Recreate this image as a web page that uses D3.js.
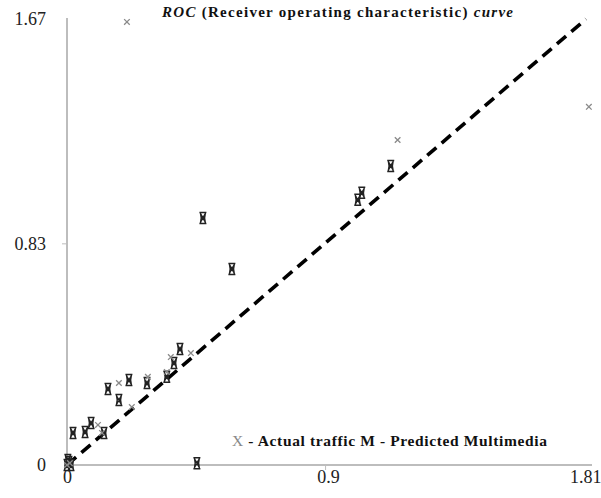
<!DOCTYPE html>
<html>
<head>
<meta charset="utf-8">
<script src="https://cdn.jsdelivr.net/npm/d3@7"></script>
<style>
  body { margin: 0; background: #fff; }
  svg { display: block; }
  text { font-family: "Liberation Serif", "Times New Roman", serif; }
</style>
</head>
<body>
<svg id="chart" width="601" height="498"></svg>
<script>
// ---- data ----
const xTicks = [0, 0.9, 1.81];
const yTicks = [0, 0.83, 1.67];
const xDomain = [0, 1.81];
const yDomain = [0, 1.67];

// Actual traffic (gray "x" markers)
const actualX = [0.209, 1.82, 1.153, 0.181, 0.432, 0.362, 0.348, 0.282, 0.226, 0.108, 0.122, 0.0, 0.01];
const actualY = [1.659, 1.341, 1.217, 0.307, 0.419, 0.404, 0.348, 0.330, 0.217, 0.150, 0.120, 0.0, 0.007];

// Predicted multimedia (dark "M" markers)
const predX = [1.129, 1.028, 1.014, 0.474, 0.575, 0.394, 0.373, 0.348, 0.279, 0.216, 0.143, 0.181, 0.021, 0.063, 0.084, 0.129, 0.453, 0.0, 0.007, 0.014, 0.003];
const predY = [1.120, 1.019, 0.993, 0.925, 0.734, 0.434, 0.382, 0.330, 0.307, 0.318, 0.285, 0.243, 0.120, 0.124, 0.157, 0.120, 0.007, 0.0, 0.011, 0.0, 0.019];

// Reference (dashed) diagonal
const diagX = [0, 1.81];
const diagY = [0, 1.67];

const titleParts = [
  { t: "ROC", italic: true },
  { t: " (Receiver operating characteristic) ", italic: false },
  { t: "curve", italic: true }
];
const legendText = ["X", " - Actual traffic M - Predicted Multimedia"];

// ---- drawing ----
const svg = d3.select("#chart");
const x = d3.scaleLinear().domain(xDomain).range([67, 586]);
const y = d3.scaleLinear().domain(yDomain).range([465, 19]);

// axes
const axisColor = "#bdbdbd";
const gx = svg.append("g").attr("transform", "translate(0,465)")
  .call(d3.axisBottom(x).tickValues(xTicks).tickFormat(d => d).tickSize(5).tickSizeOuter(0));
gx.select(".domain").attr("stroke", axisColor).attr("stroke-width", 2)
  .attr("d", `M${x(0)},0H592`);
gx.selectAll(".tick line").attr("stroke", axisColor).attr("stroke-width", 1)
  .filter(d => d !== 0.9).remove();
gx.selectAll(".tick text").attr("fill", "#222").attr("font-size", 18)
  .attr("font-family", "Liberation Serif, serif").attr("dy", "0.05em").attr("y", 17);
gx.selectAll(".tick text").filter(d => d === 0.9).attr("dx", 3);
gx.selectAll(".tick text").filter(d => d === 1.81).attr("text-anchor", "end").attr("dx", 15);

const gy = svg.append("g").attr("transform", "translate(67,0)")
  .call(d3.axisLeft(y).tickValues(yTicks).tickFormat(d => d).tickSize(5).tickSizeOuter(0));
gy.select(".domain").attr("stroke", axisColor).attr("stroke-width", 2)
  .attr("d", `M0,${y(0)}V18`);
gy.selectAll(".tick line").attr("stroke", axisColor).attr("stroke-width", 1)
  .filter(d => d !== 0.83).remove();
gy.selectAll(".tick text").attr("fill", "#222").attr("font-size", 18)
  .attr("font-family", "Liberation Serif, serif").attr("x", -21);

// dashed diagonal
svg.append("line")
  .attr("x1", x(diagX[0])).attr("y1", y(diagY[0]))
  .attr("x2", x(diagX[1])).attr("y2", y(diagY[1]))
  .attr("stroke", "#000").attr("stroke-width", 3.6)
  .attr("stroke-dasharray", "12,7");

// predicted markers (dark serif hourglass glyph)
const mPath = "M-3.5,-5.5H3.5 M-3.5,5.5H3.5 M-2.5,-5.5Q-0.8,0 -2.5,5.5 M2.5,-5.5Q0.8,0 2.5,5.5 M-2,-3.5L2,3.5 M2,-3.5L-2,3.5";
svg.append("g").selectAll("path").data(predX.map((v, i) => [v, predY[i]]))
  .join("path")
  .attr("transform", d => `translate(${x(d[0])},${y(d[1])})`)
  .attr("d", mPath)
  .attr("fill", "none").attr("stroke", "#222").attr("stroke-width", 1.5);

// actual markers (gray x)
svg.append("g").selectAll("path").data(actualX.map((v, i) => [v, actualY[i]]))
  .join("path")
  .attr("transform", d => `translate(${x(d[0])},${y(d[1])})`)
  .attr("d", "M-2.8,-2.8L2.8,2.8M2.8,-2.8L-2.8,2.8")
  .attr("fill", "none").attr("stroke", "#8a8a8a").attr("stroke-width", 1.3);

// title
const title = svg.append("text").attr("x", 162).attr("y", 17)
  .attr("font-size", 15).attr("font-weight", "bold").attr("fill", "#111")
  .attr("textLength", 351).attr("lengthAdjust", "spacing");
titleParts.forEach(p => title.append("tspan").text(p.t)
  .attr("font-style", p.italic ? "italic" : "normal"));

// legend
const leg = svg.append("text").attr("x", 232).attr("y", 446)
  .attr("font-size", 15.5).attr("font-weight", "bold").attr("fill", "#111")
  .attr("textLength", 315).attr("lengthAdjust", "spacing");
leg.append("tspan").text(legendText[0]).attr("fill", "#888").attr("font-weight", "normal");
leg.append("tspan").text(legendText[1]);
</script>
</body>
</html>
